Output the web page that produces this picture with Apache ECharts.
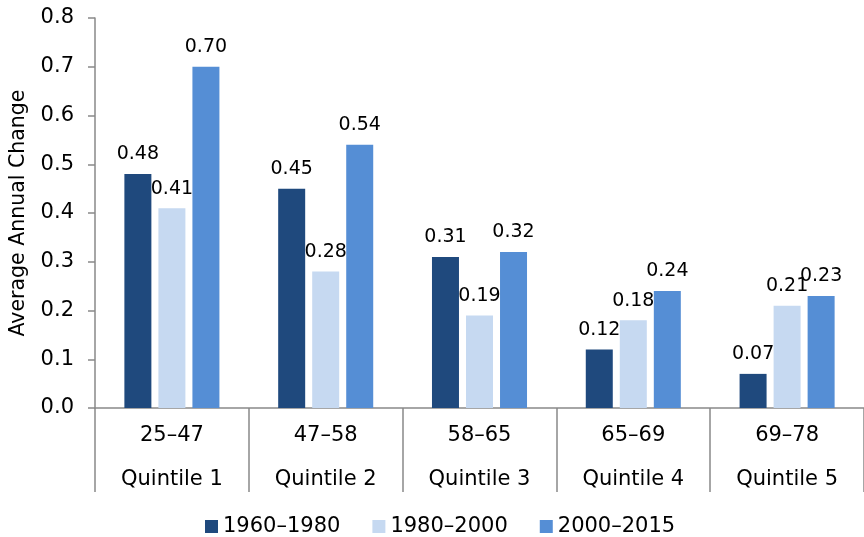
<!DOCTYPE html>
<html>
<head>
<meta charset="utf-8">
<script src="https://cdn.jsdelivr.net/npm/echarts@6/dist/echarts.min.js"></script>
<style>
html,body{margin:0;padding:0;background:#fff;}
#chart{width:864px;height:537px;}
</style>
</head>
<body>
<div id="chart"></div>
<script>
var ranges = ['25\u201347', '47\u201358', '58\u201365', '65\u201369', '69\u201378'];
var quintiles = ['Quintile 1', 'Quintile 2', 'Quintile 3', 'Quintile 4', 'Quintile 5'];
var seriesNames = ['1960\u20131980', '1980\u20132000', '2000\u20132015'];
var s1960 = [0.48, 0.45, 0.31, 0.12, 0.07];
var s1980 = [0.41, 0.28, 0.19, 0.18, 0.21];
var s2000 = [0.70, 0.54, 0.32, 0.24, 0.23];
var yTicks = { min: 0, max: 0.8, interval: 0.1 };

var FONT = 'DejaVu Sans';
var AXIS = '#898989';
var colors = ['#1F497D', '#C6D9F1', '#558ED5'];

function mkSeries(name, data, color) {
  return {
    name: name,
    type: 'bar',
    data: data,
    barWidth: 27,
    barGap: '26%',
    itemStyle: { color: color },
    label: {
      show: true,
      position: 'top',
      distance: 10,
      fontFamily: FONT,
      fontSize: 19,
      color: '#000',
      formatter: function (p) { return p.value.toFixed(2); }
    }
  };
}

var chart = echarts.init(document.getElementById('chart'), null, { renderer: 'canvas' });
chart.setOption({
  animation: false,
  color: colors,
  textStyle: { fontFamily: FONT },
  grid: { left: 95, right: -5, top: 18, bottom: 129, containLabel: false },
  legend: {
    data: seriesNames,
    left: 205,
    top: 516,
    padding: 0,
    icon: 'rect',
    itemWidth: 13,
    itemHeight: 13,
    itemGap: 32,
    textStyle: { fontFamily: FONT, fontSize: 21, color: '#000' }
  },
  xAxis: {
    type: 'category',
    data: ranges,
    axisLine: { show: true, lineStyle: { color: AXIS, width: 1.5 } },
    axisTick: { show: true, interval: 0, length: 84, lineStyle: { color: AXIS, width: 1.5 } },
    axisLabel: {
      interval: 0,
      margin: 6,
      fontFamily: FONT,
      fontSize: 21,
      lineHeight: 44,
      color: '#000',
      formatter: function (v, i) { return v + '\n' + quintiles[i]; }
    }
  },
  yAxis: {
    type: 'value',
    min: yTicks.min,
    max: yTicks.max,
    interval: yTicks.interval,
    name: 'Average Annual Change',
    nameLocation: 'middle',
    nameGap: 66,
    nameTextStyle: { fontFamily: FONT, fontSize: 20.5, color: '#000' },
    axisLine: { show: true, lineStyle: { color: AXIS, width: 1.5 } },
    axisTick: { show: true, length: 7, lineStyle: { color: AXIS, width: 1.5 } },
    splitLine: { show: false },
    axisLabel: {
      margin: 21,
      fontFamily: FONT,
      fontSize: 21,
      color: '#000',
      formatter: function (v) { return v.toFixed(1); }
    }
  },
  series: [
    mkSeries(seriesNames[0], s1960, colors[0]),
    mkSeries(seriesNames[1], s1980, colors[1]),
    mkSeries(seriesNames[2], s2000, colors[2])
  ]
});
</script>
</body>
</html>
